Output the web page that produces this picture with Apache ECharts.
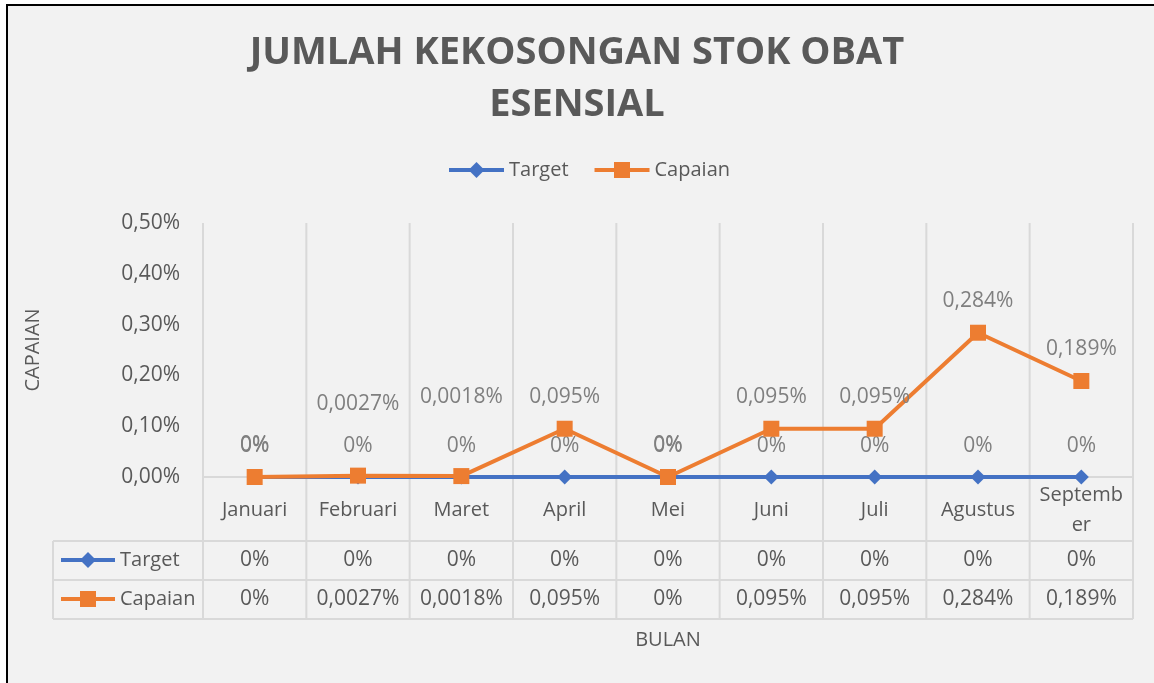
<!DOCTYPE html>
<html>
<head>
<meta charset="utf-8">
<title>Jumlah Kekosongan Stok Obat Esensial</title>
<script src="https://cdn.jsdelivr.net/npm/echarts@6/dist/echarts.min.js"></script>
<style>
    html, body { margin: 0; padding: 0; background: #fff; }
    #chart { width: 1154px; height: 683px; }
</style>
</head>
<body>
<div id="chart"></div>
<script>
// data (values are already in percent)
var months = ["Januari", "Februari", "Maret", "April", "Mei", "Juni", "Juli", "Agustus", "September"];
var target = [0, 0, 0, 0, 0, 0, 0, 0, 0];
var capaian = [0, 0.0027, 0.0018, 0.095, 0, 0.095, 0.095, 0.284, 0.189];
var yMin = 0, yMax = 0.5, yStep = 0.1;

var FONT = "'Open Sans', 'Noto Sans', sans-serif";
var TEXT = "#595959";
var LABEL = "#7f7f7f";
var LINE = "#d9d9d9";
var NUM_SIZE = 21;
var WORD_SIZE = 20;

// plot + table frame
var plotLeft = 203, plotRight = 1133, plotTop = 223, plotBase = 477;
var rowY = [477, 541, 580, 619];
var keyLeft = 53;

// a few labels were dragged by hand in the original
var capaianLabelShift = { 1: -40, 2: -48 };

function pct(v) {
    if (v === 0) {
        return "0%";
    }
    return String(v).replace(".", ",") + "%";
}

function tableLines() {
    var list = [];
    var colW = (plotRight - plotLeft) / months.length;
    for (var i = 0; i <= months.length; i++) {
        var x = plotLeft + i * colW;
        list.push({ type: "line", z: 1, silent: true,
            shape: { x1: x, y1: plotTop, x2: x, y2: rowY[3] },
            style: { stroke: LINE, lineWidth: 2 } });
    }
    for (var j = 1; j < rowY.length; j++) {
        list.push({ type: "line", z: 1, silent: true,
            shape: { x1: keyLeft, y1: rowY[j], x2: plotRight, y2: rowY[j] },
            style: { stroke: LINE, lineWidth: 2 } });
    }
    list.push({ type: "line", z: 1, silent: true,
        shape: { x1: plotLeft, y1: rowY[0], x2: plotRight, y2: rowY[0] },
        style: { stroke: LINE, lineWidth: 2 } });
    list.push({ type: "line", z: 1, silent: true,
        shape: { x1: keyLeft, y1: rowY[1], x2: keyLeft, y2: rowY[3] },
        style: { stroke: LINE, lineWidth: 2 } });
    return list;
}

function rowAxis(values, margin) {
    return {
        type: "category",
        gridIndex: 0,
        position: "bottom",
        data: months,
        axisLine: { show: false },
        axisTick: { show: false },
        splitLine: { show: false },
        axisLabel: {
            interval: 0,
            margin: margin,
            verticalAlign: "middle",
            color: TEXT,
            fontSize: NUM_SIZE,
            fontFamily: FONT,
            formatter: function(v, i) {
                return pct(values[i]);
            }
        }
    };
}

function labelOpt() {
    return {
        show: true,
        position: "top",
        distance: 13,
        color: LABEL,
        fontSize: NUM_SIZE,
        fontFamily: FONT,
        formatter: function(p) {
            return pct(p.value);
        }
    };
}

var chart = echarts.init(document.getElementById("chart"));

chart.setOption({
    animation: false,
    backgroundColor: "#fff",
    textStyle: { fontFamily: FONT },
    title: {
        text: "JUMLAH KEKOSONGAN STOK OBAT\nESENSIAL",
        left: "center",
        top: 27,
        padding: [0, 0, 0, 16],
        textStyle: {
            color: TEXT,
            fontSize: 38,
            fontWeight: "bold",
            fontFamily: FONT,
            lineHeight: 52
        }
    },
    legend: [
        {
            left: 447,
            top: 160,
            padding: 0,
            itemWidth: 55,
            itemHeight: 20,
            itemGap: 24,
            selectedMode: false,
            lineStyle: { width: 4 },
            textStyle: { color: TEXT, fontSize: WORD_SIZE, fontFamily: FONT },
            data: ["Target", "Capaian"]
        },
        {
            orient: "vertical",
            left: 59,
            top: 550,
            itemWidth: 54,
            itemHeight: 20,
            itemGap: 19,
            padding: 0,
            selectedMode: false,
            lineStyle: { width: 4 },
            textStyle: { color: TEXT, fontSize: WORD_SIZE, fontFamily: FONT },
            data: ["Target", "Capaian"]
        }
    ],
    grid: {
        left: plotLeft,
        top: plotTop,
        width: plotRight - plotLeft,
        height: plotBase - plotTop
    },
    graphic: [
        { type: "rect", z: -100, silent: true,
            shape: { x: 7, y: 5, width: 1200, height: 720 },
            style: { fill: "#f2f2f2", stroke: "#000", lineWidth: 2 } }
    ].concat(tableLines()),
    xAxis: [
        {
            type: "category",
            data: months,
            boundaryGap: true,
            name: "BULAN",
            nameLocation: "middle",
            nameGap: 153,
            nameTextStyle: { color: TEXT, fontSize: WORD_SIZE, fontFamily: FONT },
            axisLine: { show: false },
            axisTick: { show: false },
            splitLine: { show: false },
            axisLabel: {
                interval: 0,
                margin: 33,
                verticalAlign: "middle",
                width: 90,
                overflow: "breakAll",
                lineHeight: 30,
                color: TEXT,
                fontSize: WORD_SIZE,
                fontFamily: FONT
            }
        },
        rowAxis(target, 83),
        rowAxis(capaian, 122)
    ],
    yAxis: {
        type: "value",
        min: yMin,
        max: yMax,
        interval: yStep,
        name: "CAPAIAN",
        nameLocation: "middle",
        nameGap: 160,
        nameTextStyle: { color: TEXT, fontSize: WORD_SIZE, fontFamily: FONT },
        axisLine: { show: false },
        axisTick: { show: false },
        splitLine: { show: false },
        axisLabel: {
            margin: 23,
            color: TEXT,
            fontSize: NUM_SIZE,
            fontFamily: FONT,
            formatter: function(v) {
                return v.toFixed(2).replace(".", ",") + "%";
            }
        }
    },
    series: [
        {
            name: "Target",
            type: "line",
            data: target,
            color: "#4472c4",
            symbol: "diamond",
            symbolSize: 15,
            lineStyle: { width: 4 },
            emphasis: { disabled: true },
            label: labelOpt(),
            z: 3
        },
        {
            name: "Capaian",
            type: "line",
            data: capaian.map(function(v, i) {
                var item = { value: v };
                if (capaianLabelShift[i]) {
                    item.label = { offset: [0, capaianLabelShift[i]] };
                }
                return item;
            }),
            color: "#ed7d31",
            symbol: "rect",
            symbolSize: 16,
            lineStyle: { width: 4 },
            emphasis: { disabled: true },
            label: labelOpt(),
            z: 4
        }
    ]
});
</script>
</body>
</html>
